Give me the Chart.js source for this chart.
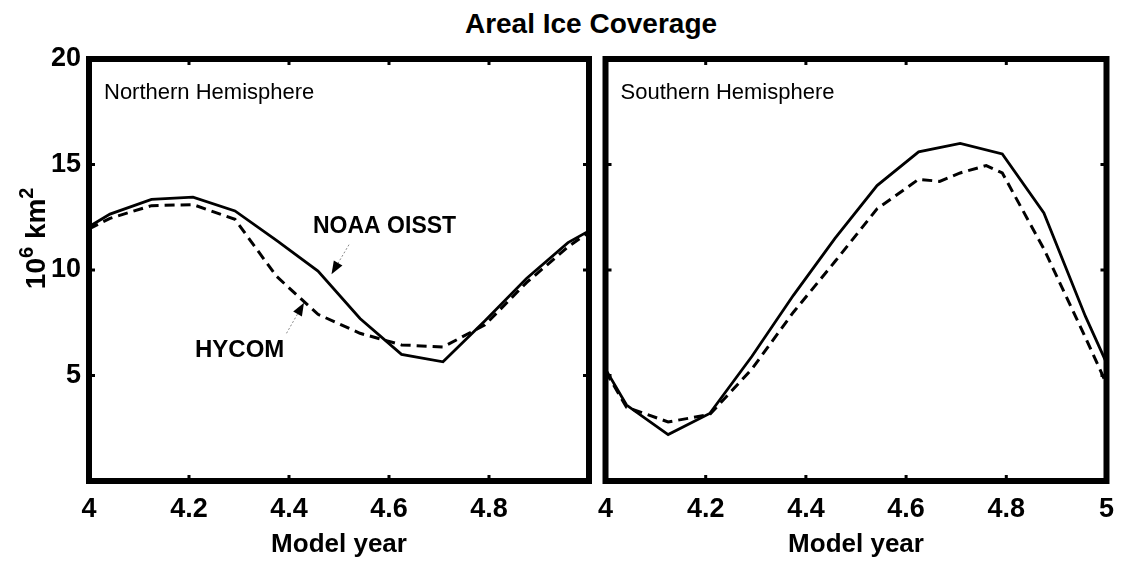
<!DOCTYPE html>
<html>
<head>
<meta charset="utf-8">
<title>Areal Ice Coverage</title>
<script src="https://cdn.jsdelivr.net/npm/chart.js@4.4.0/dist/chart.umd.min.js"></script>
<style>
  html, body { margin: 0; padding: 0; background: #fff; }
  #wrap { position: relative; width: 1122px; height: 565px; overflow: hidden; }
  #title { position: absolute; left: 391px; width: 400px; top: 8px; line-height: 30px;
           text-align: center; font: bold 28px 'Liberation Sans', Arial, sans-serif; color: #000; }
  canvas { position: absolute; top: 0; }
  #nh { left: 0; }
  #sh { left: 586px; }
</style>
</head>
<body>
<div id="wrap">
  <div id="title">Areal Ice Coverage</div>
  <canvas id="nh" width="597" height="565"></canvas>
  <canvas id="sh" width="540" height="565"></canvas>
</div>
<script>
// ---- data (model year vs 10^6 km^2) ----
const monthX = [4, 4.042, 4.125, 4.208, 4.292, 4.375, 4.458, 4.542, 4.625, 4.708, 4.792, 4.875, 4.958, 5];

const nhNoaa  = [12.05, 12.65, 13.35, 13.45, 12.8, 11.4, 9.95, 7.7, 6.0, 5.65, 7.6, 9.6, 11.3, 11.85];
const nhHycom = [11.95, 12.45, 13.05, 13.1, 12.4, 9.7, 7.9, 7.0, 6.45, 6.35, 7.4, 9.4, 11.1, 11.8];

const shNoaa   = [5.3, 3.6, 2.2, 3.2, 5.9, 8.8, 11.5, 14.0, 15.6, 16.0, 15.5, 12.7, 7.8, 5.6];
const shHycomX = [4, 4.042, 4.125, 4.208, 4.292, 4.375, 4.458, 4.542, 4.625, 4.667, 4.708, 4.76, 4.792, 4.875, 4.958, 5];
const shHycom  = [5.2, 3.5, 2.8, 3.15, 5.3, 8.0, 10.4, 12.9, 14.3, 14.2, 14.6, 14.95, 14.6, 11.0, 6.8, 4.6];

const xTicksLeft  = ['4', '4.2', '4.4', '4.6', '4.8'];
const xTicksRight = ['4', '4.2', '4.4', '4.6', '4.8', '5'];
const yTicks = ['5', '10', '15', '20'];

const FONT = "'Liberation Sans', Arial, sans-serif";
Chart.defaults.font.family = FONT;
Chart.defaults.color = '#000';

function pts(xs, ys) {
  return xs.map((x, i) => ({ x: x, y: ys[i] }));
}

function drawArrow(ctx, tx, ty, fx, fy) {
  const ang = Math.atan2(ty - fy, tx - fx);
  const len = 13, half = 5;
  const bx = tx - len * Math.cos(ang), by = ty - len * Math.sin(ang);
  ctx.save();
  ctx.strokeStyle = '#888';
  ctx.lineWidth = 1;
  ctx.setLineDash([2, 2]);
  ctx.beginPath(); ctx.moveTo(fx, fy); ctx.lineTo(bx, by); ctx.stroke();
  ctx.setLineDash([]);
  ctx.fillStyle = '#000';
  ctx.beginPath();
  ctx.moveTo(tx, ty);
  ctx.lineTo(bx + half * Math.sin(ang), by - half * Math.cos(ang));
  ctx.lineTo(bx - half * Math.sin(ang), by + half * Math.cos(ang));
  ctx.closePath();
  ctx.fill();
  ctx.restore();
}

// thick box around the plot with small inward ticks, plus the panel name
const framePlugin = {
  id: 'frame',
  afterDatasetsDraw(chart, args, opts) {
    const { ctx, chartArea: a, scales: { x, y } } = chart;
    ctx.save();
    ctx.strokeStyle = '#000';
    ctx.lineWidth = 6;
    ctx.strokeRect(a.left, a.top, a.right - a.left, a.bottom - a.top);
    ctx.lineWidth = 3;
    ctx.beginPath();
    xTicksRight.forEach(v => {
      const px = x.getPixelForValue(parseFloat(v));
      ctx.moveTo(px, a.top); ctx.lineTo(px, a.top + 6);
      ctx.moveTo(px, a.bottom); ctx.lineTo(px, a.bottom - 6);
    });
    yTicks.forEach(v => {
      const py = y.getPixelForValue(parseFloat(v));
      ctx.moveTo(a.left, py); ctx.lineTo(a.left + 6, py);
      ctx.moveTo(a.right, py); ctx.lineTo(a.right - 6, py);
    });
    ctx.stroke();
    ctx.font = '22px ' + FONT;
    ctx.fillStyle = '#000';
    ctx.textBaseline = 'middle';
    ctx.textAlign = 'left';
    ctx.fillText(opts.label, a.left + 15, a.top + 34);
    ctx.restore();
  }
};

// series names with arrows (left panel only)
const notesPlugin = {
  id: 'notes',
  afterDatasetsDraw(chart) {
    const { ctx, scales: { x, y } } = chart;
    ctx.save();
    ctx.font = 'bold 23px ' + FONT;
    ctx.fillStyle = '#000';
    ctx.textBaseline = 'middle';
    ctx.textAlign = 'left';
    ctx.fillText('NOAA OISST', x.getPixelForValue(4.448), y.getPixelForValue(12.05));
    ctx.font = 'bold 24px ' + FONT;
    ctx.fillText('HYCOM', x.getPixelForValue(4.212), y.getPixelForValue(6.2));
    drawArrow(ctx, x.getPixelForValue(4.485), y.getPixelForValue(9.8),
                   x.getPixelForValue(4.52), y.getPixelForValue(11.2));
    drawArrow(ctx, x.getPixelForValue(4.43), y.getPixelForValue(8.45),
                   x.getPixelForValue(4.395), y.getPixelForValue(7.0));
    ctx.restore();
  }
};

// y axis title with superscripts
const yTitlePlugin = {
  id: 'ytitle',
  afterDraw(chart) {
    const { ctx, scales: { y } } = chart;
    const parts = [['10', 28, 0], ['6', 20, -12], [' km', 28, 0], ['2', 20, -12]];
    ctx.save();
    let total = 0;
    parts.forEach(p => { ctx.font = 'bold ' + p[1] + 'px ' + FONT; total += ctx.measureText(p[0]).width; });
    const cy = y.getPixelForValue(11.5);
    ctx.translate(45, cy);
    ctx.rotate(-Math.PI / 2);
    ctx.fillStyle = '#000';
    ctx.textBaseline = 'alphabetic';
    ctx.textAlign = 'left';
    let cx = -total / 2;
    parts.forEach(p => {
      ctx.font = 'bold ' + p[1] + 'px ' + FONT;
      ctx.fillText(p[0], cx, p[2]);
      cx += ctx.measureText(p[0]).width;
    });
    ctx.restore();
  }
};

function makeChart(id, opts) {
  return new Chart(document.getElementById(id), {
    type: 'line',
    data: {
      datasets: [
        {
          label: 'NOAA OISST',
          data: opts.solid,
          borderColor: '#000',
          borderWidth: 2.8,
          pointRadius: 0,
          tension: 0,
          fill: false
        },
        {
          label: 'HYCOM',
          data: opts.dashed,
          borderColor: '#000',
          borderWidth: 3,
          borderDash: [10, 6],
          pointRadius: 0,
          tension: 0,
          fill: false
        }
      ]
    },
    options: {
      responsive: false,
      animation: false,
      layout: { padding: { top: 59, right: opts.padRight, bottom: 0, left: opts.padLeft } },
      plugins: {
        legend: { display: false },
        tooltip: { enabled: false },
        frame: { label: opts.label }
      },
      scales: {
        x: {
          type: 'linear',
          min: 4,
          max: 5,
          afterBuildTicks: s => { s.ticks = opts.xTicks.map(v => ({ value: parseFloat(v) })); },
          afterFit: s => { s.height = 84; },
          ticks: {
            callback: v => String(v),
            font: { size: 27, weight: 'bold' },
            padding: 12,
            maxRotation: 0,
            autoSkip: false
          },
          grid: { display: false, drawTicks: false },
          border: { display: false },
          title: {
            display: true,
            text: 'Model year',
            font: { size: 26, weight: 'bold' },
            padding: { top: 0, bottom: 5 }
          }
        },
        y: {
          min: 0,
          max: 20,
          display: opts.showY,
          afterBuildTicks: s => { s.ticks = yTicks.map(v => ({ value: parseFloat(v) })); },
          afterFit: s => { s.width = opts.showY ? 89 : 0; },
          ticks: {
            callback: v => String(v),
            font: { size: 27, weight: 'bold' },
            padding: 8
          },
          grid: { display: false, drawTicks: false },
          border: { display: false }
        }
      }
    },
    plugins: opts.plugins
  });
}

makeChart('nh', {
  solid: pts(monthX, nhNoaa),
  dashed: pts(monthX, nhHycom),
  label: 'Northern Hemisphere',
  xTicks: xTicksLeft,
  showY: true,
  padLeft: 0,
  padRight: 8,
  plugins: [framePlugin, notesPlugin, yTitlePlugin]
});

makeChart('sh', {
  solid: pts(monthX, shNoaa),
  dashed: pts(shHycomX, shHycom),
  label: 'Southern Hemisphere',
  xTicks: xTicksRight,
  showY: false,
  padLeft: 0,
  padRight: 0,
  plugins: [framePlugin]
});
</script>
</body>
</html>
